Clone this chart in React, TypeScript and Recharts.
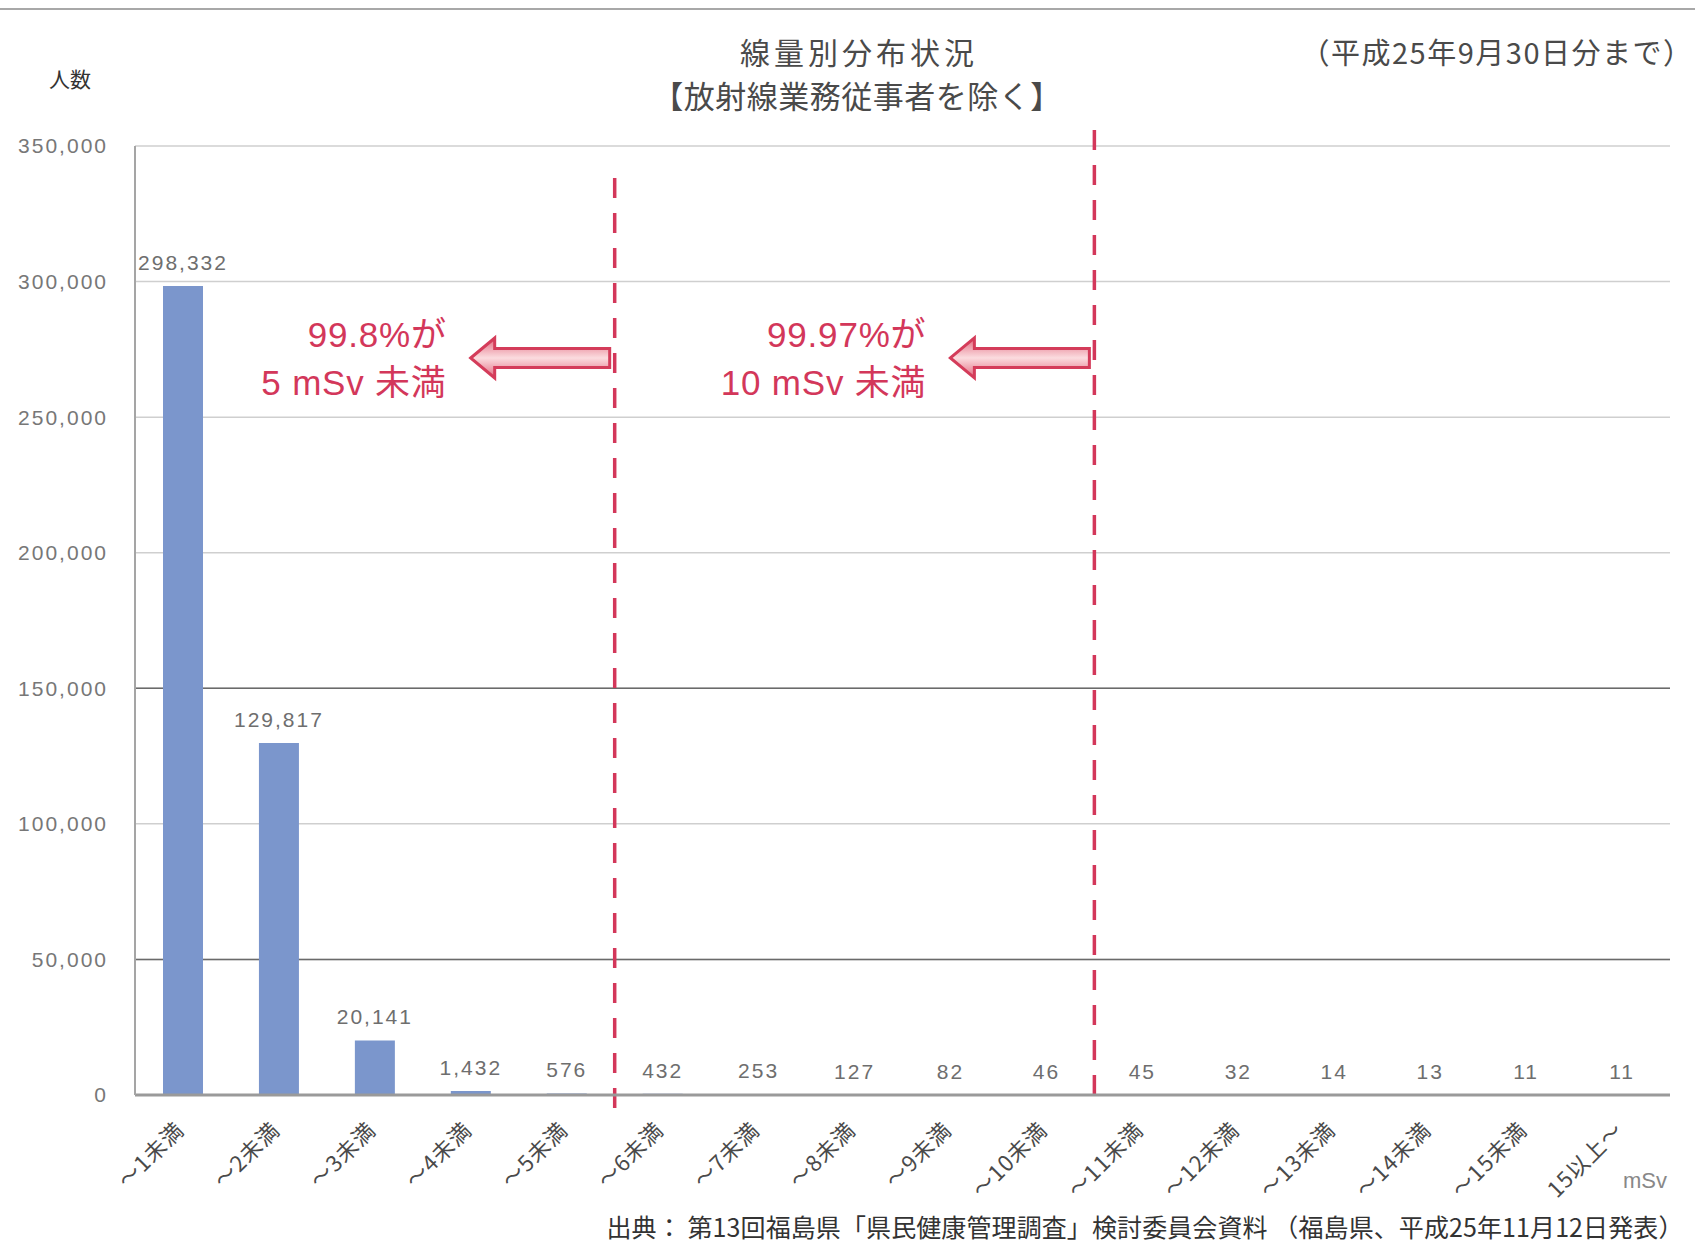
import React from 'react';
import { BarChart, Bar, XAxis, YAxis, CartesianGrid, ReferenceLine, LabelList } from 'recharts';

// dose bands (mSv) and number of people
const categories = [
  '～1未満', '～2未満', '～3未満', '～4未満', '～5未満', '～6未満', '～7未満', '～8未満',
  '～9未満', '～10未満', '～11未満', '～12未満', '～13未満', '～14未満', '～15未満', '15以上～',
];
const counts = [298332, 129817, 20141, 1432, 576, 432, 253, 127, 82, 46, 45, 32, 14, 13, 11, 11];
const yTicks = [0, 50000, 100000, 150000, 200000, 250000, 300000, 350000];
const darkGridValues = [50000, 150000];

const data = categories.map((name, i) => ({ name, count: counts[i] }));

const NUM_FONT = '"Liberation Sans", Arial, sans-serif';
const JP_FONT = '"Noto Sans CJK JP", "Noto Sans", sans-serif';
const NOTE_FONT = '"Liberation Sans", "Noto Sans CJK JP", sans-serif';
const RED = '#d3375a';

const fmt = (v: number) => v.toLocaleString('en-US');

const SlantTick = (props: any) => {
  const { x, y, payload } = props;
  return (
    <g transform={`translate(${x - 3},${y + 31})`}>
      <text
        transform="rotate(-45)"
        textAnchor="end"
        dy="0.35em"
        fontSize={22}
        letterSpacing={1}
        fontFamily={JP_FONT}
        fill="#4a4a4a"
      >
        {payload.value}
      </text>
    </g>
  );
};

// arrow + text attached to a dashed reference line
const ArrowNote = ({ viewBox, fromTop, line1, line2, id }: any) => {
  const lx = viewBox.x;
  const cy = viewBox.y + fromTop;
  const tip = lx - 144;
  const tail = lx - 5;
  const hb = tip + 24;
  const pts = [
    [tip, cy], [hb, cy - 20], [hb, cy - 9.5], [tail, cy - 9.5],
    [tail, cy + 9.5], [hb, cy + 9.5], [hb, cy + 20],
  ].map((p) => p.join(',')).join(' ');
  return (
    <g>
      <defs>
        <linearGradient id={id} x1="0" y1="0" x2="0" y2="1">
          <stop offset="0%" stopColor="#e26a80" />
          <stop offset="50%" stopColor="#fbdcdf" />
          <stop offset="100%" stopColor="#e26a80" />
        </linearGradient>
      </defs>
      <polygon points={pts} fill={`url(#${id})`} stroke="#d43c5a" strokeWidth={3} strokeLinejoin="miter" />
      <text x={lx - 168} y={cy - 11} textAnchor="end" fontSize={35} letterSpacing={0.8} fontFamily={NOTE_FONT} fill={RED}>
        {line1}
      </text>
      <text x={lx - 168} y={cy + 37} textAnchor="end" fontSize={35} letterSpacing={0.8} fontFamily={NOTE_FONT} fill={RED}>
        {line2}
      </text>
    </g>
  );
};

const abs = (left: number, top: number, extra: React.CSSProperties = {}): React.CSSProperties => ({
  position: 'absolute',
  left,
  top,
  transform: 'translate(-50%, -50%)',
  whiteSpace: 'nowrap',
  lineHeight: 1,
  fontFamily: JP_FONT,
  ...extra,
});

export default function App() {
  return (
    <div style={{ position: 'absolute', left: 0, top: 0, width: 1695, height: 1244, background: '#fff', overflow: 'hidden' }}>
      <div style={{ position: 'absolute', left: 0, top: 8, width: 1695, height: 2, background: '#a8a8a8' }} />

      <BarChart
        width={1695}
        height={1244}
        data={data}
        margin={{ top: 146, right: 25, left: 0, bottom: 49 }}
      >
        <CartesianGrid vertical={false} stroke="#cfcfcf" strokeWidth={1.5} />
        <CartesianGrid vertical={false} horizontalValues={darkGridValues} stroke="#6a6a6a" strokeWidth={1.5} />
        <XAxis
          dataKey="name"
          interval={0}
          height={100}
          tickLine={false}
          tickSize={0}
          tickMargin={0}
          axisLine={{ stroke: '#9a9a9a', strokeWidth: 3 }}
          tick={<SlantTick />}
        />
        <YAxis
          width={135}
          domain={[0, 350000]}
          ticks={yTicks}
          tickFormatter={fmt}
          tickLine={false}
          tickSize={0}
          tickMargin={27}
          axisLine={{ stroke: '#a5a5a5', strokeWidth: 2 }}
          tick={{ fontSize: 21, fill: '#777', fontFamily: NUM_FONT, letterSpacing: 2 }}
        />
        <Bar dataKey="count" fill="#7b96cc" barSize={40} isAnimationActive={false}>
          <LabelList
            dataKey="count"
            position="top"
            offset={16}
            formatter={(v: any) => fmt(Number(v))}
            fontSize={21}
            fill="#6e6e6e"
            fontFamily={NUM_FONT}
            letterSpacing={2}
          />
        </Bar>
        <ReferenceLine
          segment={[{ x: '～5未満', y: -4800 }, { x: '～5未満', y: 343000 }]}
          position="end"
          ifOverflow="visible"
          stroke={RED}
          strokeWidth={3.5}
          strokeDasharray="20 15"
          label={(p: any) => (
            <ArrowNote viewBox={p.viewBox} fromTop={193} line1="99.8%が" line2="5 mSv 未満" id="arrowGrad1" />
          )}
        />
        <ReferenceLine
          segment={[{ x: '～10未満', y: 0 }, { x: '～10未満', y: 360000 }]}
          position="end"
          ifOverflow="visible"
          stroke={RED}
          strokeWidth={3.5}
          strokeDasharray="20 15"
          label={(p: any) => (
            <ArrowNote viewBox={p.viewBox} fromTop={239} line1="99.97%が" line2="10 mSv 未満" id="arrowGrad2" />
          )}
        />
      </BarChart>

      <div style={abs(859, 51, { fontSize: 30, color: '#4a4a4a', letterSpacing: 4 })}>線量別分布状況</div>
      <div style={abs(857, 94, { fontSize: 31, color: '#4a4a4a', letterSpacing: 0.5 })}>【放射線業務従事者を除く】</div>
      <div style={abs(1497, 51, { fontSize: 29, color: '#4a4a4a', letterSpacing: 1.5 })}>（平成25年9月30日分まで）</div>
      <div style={abs(70, 78, { fontSize: 21, color: '#333' })}>人数</div>
      <div style={abs(1645, 1181, { fontSize: 22, color: '#888', fontFamily: NUM_FONT })}>mSv</div>
      <div style={abs(1145, 1226, { fontSize: 25, color: '#333', letterSpacing: 0.1 })}>
        出典： 第13回福島県「県民健康管理調査」検討委員会資料 （福島県、平成25年11月12日発表）
      </div>
    </div>
  );
}
